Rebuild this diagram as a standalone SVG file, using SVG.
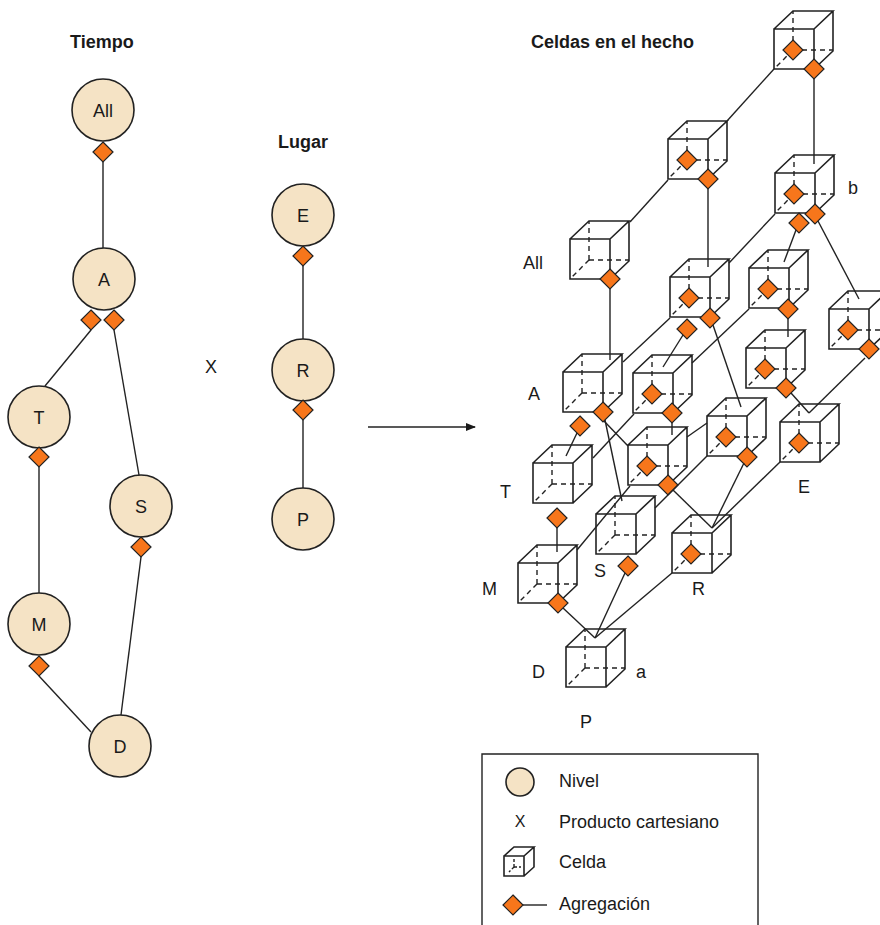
<svg xmlns="http://www.w3.org/2000/svg" width="880" height="925" viewBox="0 0 880 925">
<style>
.cf{fill:#fff;stroke:none}
.ce{fill:none;stroke:#222;stroke-width:1.6;stroke-linejoin:miter}
.hd{fill:none;stroke:#222;stroke-width:1.4;stroke-dasharray:5,4}
.dia{fill:#F7761B;stroke:#222;stroke-width:1.2}
.ln{fill:none;stroke:#222;stroke-width:1.4}
.lvl{fill:#F5E3C5;stroke:#222;stroke-width:1.6}
.t{font-family:"Liberation Sans",Arial,sans-serif;font-size:18px;fill:#1a1a1a}
.b{font-weight:bold}
.m{text-anchor:middle}
</style>
<defs>
<g id="cube">
<path class="cf" d="M0,0 L19,-18 H59 V22 L40,40 H0 Z"/>
<path class="hd" d="M19,21 V-18 M19,21 H59 M19,21 L0,40"/>
<path class="ce" d="M0,0 H40 V40 H0 Z M0,0 L19,-18 H59 L40,0 M59,-18 V22 L40,40"/>
</g>
<polygon id="dm" class="dia" points="0,-10 10,0 0,10 -10,0"/>
<marker id="arr" markerWidth="10" markerHeight="8" refX="9" refY="4" orient="auto" markerUnits="userSpaceOnUse">
<path d="M0,0 L10,4 L0,8 Z" fill="#1a1a1a"/>
</marker>
</defs>

<!-- titles -->
<text class="t b" x="70" y="48">Tiempo</text>
<text class="t b" x="278" y="148">Lugar</text>
<text class="t b" x="531" y="48">Celdas en el hecho</text>
<text class="t m" x="211" y="373">X</text>

<!-- left level nodes -->
<g id="lvl-All"><circle class="lvl" cx="103" cy="110" r="31"/><text class="t m" x="103" y="117">All</text><use href="#dm" x="103" y="152"/></g>
<g id="lvl-A"><circle class="lvl" cx="104" cy="279" r="31"/><text class="t m" x="104" y="286">A</text><use href="#dm" x="91" y="320"/><use href="#dm" x="114" y="320"/></g>
<g id="lvl-T"><circle class="lvl" cx="39" cy="417" r="31"/><text class="t m" x="39" y="424">T</text><use href="#dm" x="39" y="457"/></g>
<g id="lvl-S"><circle class="lvl" cx="141" cy="506" r="31"/><text class="t m" x="141" y="513">S</text><use href="#dm" x="141" y="547"/></g>
<g id="lvl-M"><circle class="lvl" cx="39" cy="624" r="31"/><text class="t m" x="39" y="631">M</text><use href="#dm" x="39" y="666"/></g>
<g id="lvl-D"><circle class="lvl" cx="120" cy="746" r="31"/><text class="t m" x="120" y="753">D</text></g>
<g id="lvl-E"><circle class="lvl" cx="303" cy="215" r="31"/><text class="t m" x="303" y="222">E</text><use href="#dm" x="303" y="256"/></g>
<g id="lvl-R"><circle class="lvl" cx="303" cy="370" r="31"/><text class="t m" x="303" y="377">R</text><use href="#dm" x="303" y="410"/></g>
<g id="lvl-P"><circle class="lvl" cx="303" cy="519" r="31"/><text class="t m" x="303" y="526">P</text></g>

<!-- cells -->
<g id="cell-All-E"><use href="#cube" x="774" y="29"/><use href="#dm" x="793" y="50"/><use href="#dm" x="814" y="69"/></g>
<g id="cell-All-R"><use href="#cube" x="668" y="139"/><use href="#dm" x="687" y="160"/><use href="#dm" x="708" y="179"/></g>
<g id="cell-All-P"><use href="#cube" x="570" y="239"/><use href="#dm" x="610" y="279"/></g>
<g id="cell-A-E"><use href="#cube" x="775" y="173"/><use href="#dm" x="794" y="194"/><use href="#dm" x="799" y="223"/><use href="#dm" x="815" y="214"/></g>
<g id="cell-A-R"><use href="#cube" x="670" y="277"/><use href="#dm" x="689" y="298"/><use href="#dm" x="687" y="329"/><use href="#dm" x="710" y="318"/></g>
<g id="cell-A-P"><use href="#cube" x="563" y="372"/><use href="#dm" x="580" y="426"/><use href="#dm" x="603" y="412"/></g>
<g id="cell-T-E"><use href="#cube" x="749" y="268"/><use href="#dm" x="768" y="289"/><use href="#dm" x="788" y="309"/></g>
<g id="cell-T-R"><use href="#cube" x="633" y="373"/><use href="#dm" x="652" y="394"/><use href="#dm" x="672" y="413"/></g>
<g id="cell-T-P"><use href="#cube" x="533" y="463"/><use href="#dm" x="557" y="518"/></g>
<g id="cell-S-E"><use href="#cube" x="829" y="309"/><use href="#dm" x="848" y="330"/><use href="#dm" x="869" y="349"/></g>
<g id="cell-S-R"><use href="#cube" x="707" y="416"/><use href="#dm" x="726" y="437"/><use href="#dm" x="747" y="457"/></g>
<g id="cell-S-P"><use href="#cube" x="596" y="514"/><use href="#dm" x="628" y="566"/></g>
<g id="cell-M-E"><use href="#cube" x="746" y="348"/><use href="#dm" x="765" y="369"/><use href="#dm" x="786" y="388"/></g>
<g id="cell-M-R"><use href="#cube" x="628" y="445"/><use href="#dm" x="647" y="466"/><use href="#dm" x="668" y="485"/></g>
<g id="cell-M-P"><use href="#cube" x="518" y="563"/><use href="#dm" x="558" y="603"/></g>
<g id="cell-D-E"><use href="#cube" x="780" y="422"/><use href="#dm" x="799" y="443"/></g>
<g id="cell-D-R"><use href="#cube" x="672" y="533"/><use href="#dm" x="691" y="554"/></g>
<g id="cell-D-P"><use href="#cube" x="566" y="647"/></g>

<!-- connectors -->
<g id="connectors" class="ln">
<path d="M103,162 V248"/>
<path d="M91,330 L45,386"/>
<path d="M114,330 L139,475"/>
<path d="M39,467 V593"/>
<path d="M141,557 L121,715"/>
<path d="M39,676 L91,732"/>
<path d="M303,266 V339"/>
<path d="M303,420 V488"/>
<path d="M368,427 H475" marker-end="url(#arr)"/>
<!-- time aggregation in cells -->
<path d="M814,79 V164"/>
<path d="M708,189 V267"/>
<path d="M610,289 V360"/>
<path d="M796,230 L784,262"/>
<path d="M818,221 L859,299"/>
<path d="M683,335 L663,367"/>
<path d="M713,325 L741,407"/>
<path d="M577,433 L566,456"/>
<path d="M605,420 L622,501"/>
<path d="M604,421 L628,446"/>
<path d="M788,319 V337"/>
<path d="M672,423 V435"/>
<path d="M557,528 V552"/>
<path d="M865,358 L809,413"/>
<path d="M744,463 L712,528"/>
<path d="M625,573 L595,638"/>
<path d="M791,393 L809,413"/>
<path d="M673,490 L712,528"/>
<path d="M563,608 L595,638"/>
<!-- place aggregation in cells -->
<path d="M630,222 L668,180"/>
<path d="M727,121 L774,69"/>
<path d="M623,362 L670,318"/>
<path d="M729,263 L775,214"/>
<path d="M593,458 L634,414"/>
<path d="M692,363 L749,309"/>
<path d="M655,508 L707,456"/>
<path d="M577,550 L630,486"/>
<path d="M687,437 L707,423"/>
<path d="M595,638 L672,573"/>
<path d="M712,528 L780,462"/>
</g>

<!-- cell labels -->
<text class="t" x="523" y="269">All</text>
<text class="t" x="528" y="400">A</text>
<text class="t" x="500" y="498">T</text>
<text class="t" x="482" y="595">M</text>
<text class="t" x="532" y="678">D</text>
<text class="t" x="636" y="678">a</text>
<text class="t" x="580" y="728">P</text>
<text class="t" x="594" y="577">S</text>
<text class="t" x="692" y="595">R</text>
<text class="t" x="798" y="493">E</text>
<text class="t" x="848" y="194">b</text>

<!-- legend -->
<g id="legend">
<path class="ln" d="M482,930 V754 H758 V930"/>
<circle class="lvl" cx="520" cy="782" r="14"/>
<text class="t" x="559" y="787">Nivel</text>
<text class="t m" x="520" y="827" style="font-size:16px">X</text>
<text class="t" x="559" y="828">Producto cartesiano</text>
<path class="hd" d="M514,867 V859 M514,867 H521 M514,867 L509,872" style="stroke-dasharray:3,2"/>
<path class="ce" d="M504,856 H524 V876 H504 Z M504,856 L514,847 H534 L524,856 M534,847 V867 L524,876"/>
<text class="t" x="559" y="868">Celda</text>
<path class="ln" d="M523,905 H547"/>
<use href="#dm" x="513" y="905"/>
<text class="t" x="559" y="910">Agregación</text>
</g>
</svg>
